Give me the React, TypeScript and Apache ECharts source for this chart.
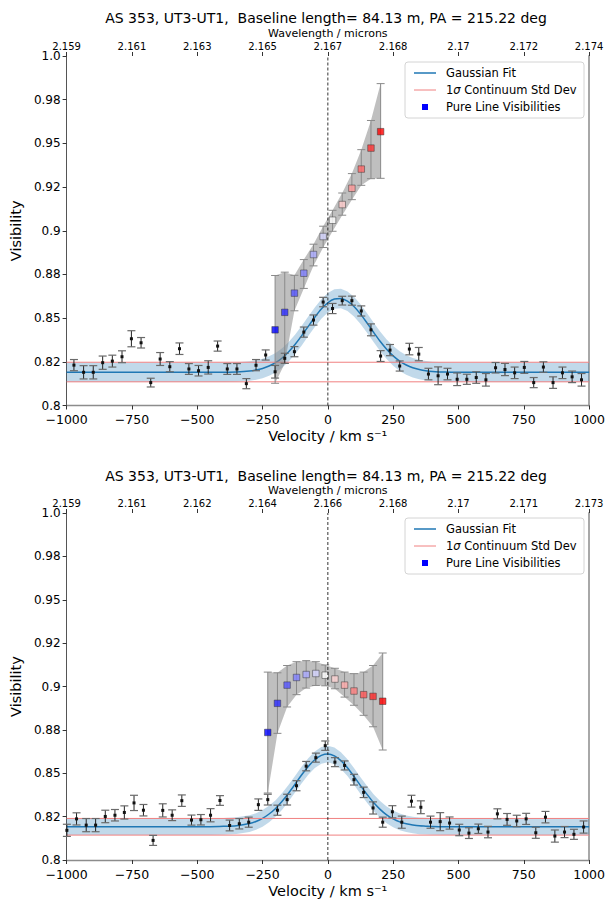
import React, { useEffect, useRef } from 'react';
import * as echarts from 'echarts';

const TITLE = 'AS 353, UT3-UT1,  Baseline length= 84.13 m, PA = 215.22 deg';
const wavelengthLabels1 = ['2.159', '2.161', '2.163', '2.165', '2.167', '2.168', '2.17', '2.172', '2.174'];
const wavelengthLabels2 = ['2.159', '2.161', '2.162', '2.164', '2.166', '2.168', '2.17', '2.171', '2.173'];
const visibilityLabels = ['0.8', '0.82', '0.85', '0.88', '0.9', '0.92', '0.95', '0.98', '1.0'];

// ---------- Panel 1 ----------
const vel1 = [-972, -935, -898, -862, -825, -788, -752, -715, -678, -642, -605, -568, -532, -495, -458, -422, -385, -348, -312, -275,
  -238, -202, -165, -128, -92, -55, -18, 18, 55, 92, 128, 165, 202, 238, 275, 312, 348, 385, 422, 458,
  495, 532, 568, 605, 642, 678, 715, 752, 788, 825, 862, 898, 935, 971];
const vis1 = [0.8231, 0.8190, 0.8190, 0.8245, 0.8254, 0.8279, 0.8382, 0.8359, 0.8131, 0.8266, 0.8222, 0.8325, 0.8209, 0.8199, 0.8218, 0.8340, 0.8209, 0.8209, 0.8125, 0.8231,
  0.8289, 0.8193, 0.8270, 0.8308, 0.8420, 0.8489, 0.8592, 0.8555, 0.8600, 0.8600, 0.8541, 0.8433, 0.8283, 0.8317, 0.8226, 0.8323, 0.8294, 0.8180, 0.8170, 0.8180,
  0.8150, 0.8150, 0.8160, 0.8147, 0.8216, 0.8206, 0.8187, 0.8218, 0.8131, 0.8220, 0.8131, 0.8187, 0.8164, 0.8147];
const err1 = [0.0032, 0.0038, 0.0038, 0.0038, 0.0034, 0.0034, 0.0046, 0.0030, 0.0025, 0.0037, 0.0029, 0.0033, 0.0031, 0.0030, 0.0038, 0.0029, 0.0031, 0.0031, 0.0029, 0.0032,
  0.0029, 0.0036, 0.0029, 0.0029, 0.0029, 0.0029, 0.0027, 0.0029, 0.0025, 0.0026, 0.0029, 0.0034, 0.0031, 0.0032, 0.0029, 0.0033, 0.0038, 0.0033, 0.0051, 0.0033,
  0.0036, 0.0029, 0.0033, 0.0036, 0.0030, 0.0035, 0.0033, 0.0034, 0.0029, 0.0030, 0.0033, 0.0033, 0.0033, 0.0036];
const fitVel = [-1000, -600, -450, -400, -350, -300, -275, -250, -225, -200, -175, -150, -125, -100, -75, -50, -25, 0, 25, 50,
  75, 100, 125, 150, 175, 200, 225, 250, 275, 300, 325, 350, 375, 400, 450, 500, 600, 1000];
const fit1 = [0.8190, 0.8190, 0.8190, 0.8190, 0.8192, 0.8197, 0.8203, 0.8212, 0.8226, 0.8245, 0.8272, 0.8308, 0.8351, 0.8400, 0.8453, 0.8505, 0.8552, 0.8588, 0.8609, 0.8612,
  0.8597, 0.8566, 0.8523, 0.8472, 0.8419, 0.8368, 0.8322, 0.8284, 0.8254, 0.8232, 0.8216, 0.8206, 0.8199, 0.8195, 0.8191, 0.8190, 0.8190, 0.8190];
const contMean1 = 0.81915;
const contStd1 = 0.0056;
const lineVel1 = [-202, -165, -128, -92, -55, -18, 18, 55, 92, 128, 165, 202];
const lineVis1 = [0.8433, 0.8533, 0.8643, 0.8757, 0.8864, 0.8967, 0.9060, 0.9150, 0.9243, 0.9353, 0.9473, 0.9567];
const lineLow1 = [0.8127, 0.8241, 0.8542, 0.8670, 0.8799, 0.8904, 0.8997, 0.9089, 0.9178, 0.9260, 0.9298, 0.9300];
const lineHigh1 = [0.8744, 0.8763, 0.8745, 0.8835, 0.8923, 0.9026, 0.9117, 0.9216, 0.9327, 0.9464, 0.9631, 0.9842];

// ---------- Panel 2 ----------
const vel2 = [-999, -962, -925, -889, -852, -815, -779, -742, -706, -669, -632, -596, -559, -522, -486, -449, -413, -376, -339, -303,
  -266, -230, -193, -156, -120, -83, -46, -10, 27, 64, 100, 137, 173, 210, 247, 283, 320, 356, 393, 430,
  466, 503, 540, 576, 613, 649, 686, 723, 759, 796, 833, 869, 906, 942, 979];
const vis2 = [0.8171, 0.8237, 0.8201, 0.8201, 0.8251, 0.8258, 0.8274, 0.8329, 0.8287, 0.8113, 0.8286, 0.8258, 0.8342, 0.8230, 0.8232, 0.8258, 0.8343, 0.8199, 0.8209, 0.8218,
  0.8319, 0.8348, 0.8287, 0.8348, 0.8428, 0.8541, 0.8590, 0.8659, 0.8564, 0.8545, 0.8463, 0.8390, 0.8300, 0.8218, 0.8278, 0.8218, 0.8339, 0.8304, 0.8218, 0.8221,
  0.8213, 0.8173, 0.8155, 0.8180, 0.8161, 0.8266, 0.8234, 0.8225, 0.8237, 0.8157, 0.8247, 0.8138, 0.8161, 0.8148, 0.8190];
const err2 = [0.0035, 0.0035, 0.0038, 0.0038, 0.0036, 0.0033, 0.0038, 0.0044, 0.0033, 0.0029, 0.0038, 0.0031, 0.0033, 0.0029, 0.0030, 0.0038, 0.0028, 0.0031, 0.0030, 0.0029,
  0.0033, 0.0031, 0.0029, 0.0031, 0.0029, 0.0027, 0.0026, 0.0027, 0.0026, 0.0026, 0.0031, 0.0030, 0.0035, 0.0029, 0.0035, 0.0035, 0.0034, 0.0037, 0.0035, 0.0052,
  0.0035, 0.0033, 0.0031, 0.0027, 0.0033, 0.0029, 0.0034, 0.0033, 0.0032, 0.0032, 0.0033, 0.0035, 0.0032, 0.0029, 0.0035];
const fit2 = [0.8192, 0.8192, 0.8192, 0.8194, 0.8198, 0.8210, 0.8222, 0.8240, 0.8265, 0.8297, 0.8338, 0.8386, 0.8438, 0.8491, 0.8539, 0.8578, 0.8603, 0.8611, 0.8600, 0.8573,
  0.8532, 0.8482, 0.8429, 0.8378, 0.8331, 0.8292, 0.8260, 0.8237, 0.8220, 0.8209, 0.8202, 0.8197, 0.8195, 0.8193, 0.8192, 0.8192, 0.8192, 0.8192];
const contMean2 = 0.81915;
const contStd2 = 0.0048;
const lineVel2 = [-230, -193, -156, -120, -83, -46, -10, 27, 64, 100, 137, 173, 210];
const lineVis2 = [0.8735, 0.8903, 0.9008, 0.9052, 0.9069, 0.9075, 0.9065, 0.9043, 0.9008, 0.8974, 0.8953, 0.8943, 0.8915];
const lineLow2 = [0.8386, 0.8730, 0.8882, 0.8953, 0.8991, 0.9006, 0.9004, 0.8987, 0.8939, 0.8892, 0.8834, 0.8768, 0.8634];
const lineHigh2 = [0.9083, 0.9079, 0.9121, 0.9143, 0.9149, 0.9143, 0.9124, 0.9105, 0.9083, 0.9074, 0.9083, 0.9121, 0.9193];

const FONT = 'DejaVu Sans';
const BLUE = '#1f77b4';
const PINK = '#f08080';

function bwr(t: number) {
  let r: number, g: number, b: number;
  if (t <= 0.5) {
    const s = t / 0.5;
    r = g = Math.round(255 * s);
    b = 255;
  } else {
    const s = (1 - t) / 0.5;
    r = 255;
    g = b = Math.round(255 * s);
  }
  return `rgb(${r},${g},${b})`;
}
function colorFor(i: number, n: number, w: number) {
  return i <= w ? bwr((0.5 * i) / w) : bwr(0.5 + (0.5 * (i - w)) / (n - 1 - w));
}

function bandSeries(ax: number, xs: number[], lo: number[], hi: number[], fill: string, z: number) {
  return {
    type: 'custom',
    xAxisIndex: ax,
    yAxisIndex: ax,
    z,
    silent: true,
    clip: true,
    data: [[xs[0], lo[0]]],
    renderItem: (_p: any, api: any) => {
      const pts: number[][] = [];
      for (let i = 0; i < xs.length; i++) pts.push(api.coord([xs[i], hi[i]]));
      for (let i = xs.length - 1; i >= 0; i--) pts.push(api.coord([xs[i], lo[i]]));
      return { type: 'polygon', shape: { points: pts }, style: { fill, stroke: 'none' } };
    },
  };
}

function panelSeries(
  p: number,
  vel: number[], vis: number[], err: number[],
  fit: number[], mean: number, std: number,
  lVel: number[], lVis: number[], lLow: number[], lHigh: number[],
) {
  const ax = p * 2;
  const fitHi = fit.map((f) => f + std);
  const fitLo = fit.map((f) => f - std);
  const whiteIdx = 6;
  return [
    bandSeries(ax, fitVel, fitLo, fitHi, 'rgba(31,119,180,0.28)', 1),
    {
      type: 'line', xAxisIndex: ax, yAxisIndex: ax, z: 2, silent: true,
      data: fitVel.map((v, i) => [v, fit[i]]), smooth: 0.3, symbol: 'none',
      lineStyle: { color: BLUE, width: 1.5 },
    },
    {
      type: 'line', xAxisIndex: ax, yAxisIndex: ax, z: 3, silent: true, symbol: 'none',
      data: [[-1000, mean + std], [1000, mean + std]], lineStyle: { color: PINK, width: 1 },
    },
    {
      type: 'line', xAxisIndex: ax, yAxisIndex: ax, z: 3, silent: true, symbol: 'none',
      data: [[-1000, mean - std], [1000, mean - std]], lineStyle: { color: PINK, width: 1 },
    },
    bandSeries(ax, lVel, lLow, lHigh, 'rgba(128,128,128,0.5)', 4),
    {
      type: 'custom', xAxisIndex: ax, yAxisIndex: ax, z: 5, silent: true,
      data: lVel.map((v, i) => [v, lLow[i], lHigh[i]]),
      renderItem: (_p: any, api: any) => {
        const x = api.value(0);
        const a = api.coord([x, api.value(1)]);
        const b = api.coord([x, api.value(2)]);
        const cw = 4;
        const st = { stroke: '#8a8a8a', lineWidth: 1 };
        return {
          type: 'group',
          children: [
            { type: 'line', shape: { x1: a[0], y1: a[1], x2: b[0], y2: b[1] }, style: st },
            { type: 'line', shape: { x1: a[0] - cw, y1: a[1], x2: a[0] + cw, y2: a[1] }, style: st },
            { type: 'line', shape: { x1: b[0] - cw, y1: b[1], x2: b[0] + cw, y2: b[1] }, style: st },
          ],
        };
      },
    },
    {
      type: 'scatter', xAxisIndex: ax, yAxisIndex: ax, z: 6, silent: true,
      symbol: 'rect', symbolSize: 6.5,
      data: lVel.map((v, i) => ({
        value: [v, lVis[i]],
        itemStyle: { color: colorFor(i, lVel.length, whiteIdx), borderColor: '#333', borderWidth: 0.6 },
      })),
    },
    {
      type: 'custom', xAxisIndex: ax, yAxisIndex: ax, z: 7, silent: true,
      data: vel.map((v, i) => [v, vis[i], err[i]]),
      renderItem: (_p: any, api: any) => {
        const x = api.value(0);
        const y = api.value(1);
        const e = api.value(2);
        const c = api.coord([x, y]);
        const t = api.coord([x, y + e]);
        const b = api.coord([x, y - e]);
        const cw = 4;
        const cap = { stroke: '#6a6a6a', lineWidth: 1.2 };
        return {
          type: 'group',
          children: [
            { type: 'line', shape: { x1: c[0], y1: t[1], x2: c[0], y2: b[1] }, style: { stroke: '#222', lineWidth: 1 } },
            { type: 'line', shape: { x1: c[0] - cw, y1: t[1], x2: c[0] + cw, y2: t[1] }, style: cap },
            { type: 'line', shape: { x1: c[0] - cw, y1: b[1], x2: c[0] + cw, y2: b[1] }, style: cap },
            { type: 'rect', shape: { x: c[0] - 1.5, y: c[1] - 1.5, width: 3, height: 3 }, style: { fill: '#111' } },
          ],
        };
      },
    },
    {
      type: 'line', xAxisIndex: ax, yAxisIndex: ax, z: 8, silent: true, symbol: 'none',
      data: [[0, 0.8], [0, 1.0]], lineStyle: { color: '#000', width: 0.8, type: [3, 2] },
    },
  ];
}

function xAxes(gridIndex: number, wl: string[]) {
  return [
    {
      type: 'value', gridIndex, position: 'bottom', min: -1000, max: 1000, interval: 250,
      axisLine: { show: true, onZero: false, lineStyle: { color: '#8c8c8c', width: 1.3 } },
      axisTick: { show: true, length: 4, lineStyle: { color: '#333' } },
      axisLabel: {
        fontFamily: FONT, fontSize: 12.5, color: '#000', margin: 7.5,
        formatter: (v: number) => (v < 0 ? '\u2212' + Math.abs(v) : String(v)),
      },
      splitLine: { show: false },
      name: 'Velocity / km s\u207B\u00B9', nameLocation: 'middle', nameGap: 23,
      nameTextStyle: { fontFamily: FONT, fontSize: 14.5, color: '#000' },
    },
    {
      type: 'value', gridIndex, position: 'top', min: -1000, max: 1000, interval: 250,
      axisLine: { show: false, onZero: false },
      axisTick: { show: true, length: 4, lineStyle: { color: '#333' } },
      axisLabel: {
        fontFamily: FONT, fontSize: 10, color: '#000', margin: 5,
        formatter: (v: number) => wl[Math.round((v + 1000) / 250)],
      },
      splitLine: { show: false },
      name: 'Wavelength / microns', nameLocation: 'middle', nameGap: 17,
      nameTextStyle: { fontFamily: FONT, fontSize: 11, color: '#000' },
    },
  ];
}

function yAxes(gridIndex: number) {
  return [
    {
      type: 'value', gridIndex, position: 'left', min: 0.8, max: 1.0, interval: 0.025,
      axisLine: { show: true, onZero: false, lineStyle: { color: '#555', width: 1 } },
      axisTick: { show: true, length: 4, lineStyle: { color: '#333' } },
      axisLabel: {
        fontFamily: FONT, fontSize: 12, color: '#000', margin: 6,
        formatter: (v: number) => visibilityLabels[Math.round((v - 0.8) / 0.025)],
      },
      splitLine: { show: false },
      name: 'Visibility', nameLocation: 'middle', nameGap: 36, nameRotate: 90,
      nameTextStyle: { fontFamily: FONT, fontSize: 14.5, color: '#000' },
    },
    {
      type: 'value', gridIndex, position: 'right', min: 0.8, max: 1.0, interval: 0.025,
      axisLine: { show: true, onZero: false, lineStyle: { color: '#a8a8a8', width: 2 } },
      axisTick: { show: false },
      axisLabel: { show: false },
      splitLine: { show: false },
    },
  ];
}

function legendGroup(y: number) {
  const f = { fontFamily: FONT, fontSize: 11.5, fill: '#000', verticalAlign: 'middle' as const, align: 'left' as const };
  return {
    type: 'group',
    x: 405,
    y,
    z: 100,
    children: [
      { type: 'rect', shape: { x: 0, y: 0, width: 179, height: 56, r: 3 }, style: { fill: 'rgba(255,255,255,0.85)', stroke: '#d4d4d4', lineWidth: 1 } },
      { type: 'line', shape: { x1: 9, y1: 11, x2: 31, y2: 11 }, style: { stroke: BLUE, lineWidth: 1.5 } },
      { type: 'text', x: 41, y: 11, style: { ...f, text: 'Gaussian Fit' } },
      { type: 'line', shape: { x1: 9, y1: 28, x2: 31, y2: 28 }, style: { stroke: PINK, lineWidth: 1 } },
      {
        type: 'text', x: 41, y: 28,
        style: { ...f, text: '1{i|\u03C3} Continuum Std Dev', rich: { i: { fontFamily: FONT, fontSize: 11.5, fontStyle: 'italic', fill: '#000' } } },
      },
      { type: 'rect', shape: { x: 17, y: 42, width: 6, height: 6 }, style: { fill: '#0000ff' } },
      { type: 'text', x: 41, y: 45, style: { ...f, text: 'Pure Line Visibilities' } },
    ],
  };
}

export default function App() {
  const ref = useRef<HTMLDivElement>(null);
  useEffect(() => {
    if (!ref.current) return;
    const chart = echarts.init(ref.current, undefined, { renderer: 'svg' });
    const option = {
      animation: false,
      backgroundColor: '#fff',
      textStyle: { fontFamily: FONT },
      grid: [
        { left: 62, top: 56, width: 528, height: 349.5 },
        { left: 62, top: 513, width: 528, height: 349.5 },
      ],
      xAxis: [...xAxes(0, wavelengthLabels1), ...xAxes(1, wavelengthLabels2)],
      yAxis: [...yAxes(0), ...yAxes(1)],
      series: [
        ...panelSeries(0, vel1, vis1, err1, fit1, contMean1, contStd1, lineVel1, lineVis1, lineLow1, lineHigh1),
        ...panelSeries(1, vel2, vis2, err2, fit2, contMean2, contStd2, lineVel2, lineVis2, lineLow2, lineHigh2),
      ],
      graphic: [
        { type: 'text', x: 326, y: 18, style: { text: TITLE, fontFamily: FONT, fontSize: 14, fill: '#000', align: 'center', verticalAlign: 'middle' } },
        { type: 'text', x: 326, y: 476, style: { text: TITLE, fontFamily: FONT, fontSize: 14, fill: '#000', align: 'center', verticalAlign: 'middle' } },
        legendGroup(62),
        legendGroup(518),
      ],
    };
    chart.setOption(option as any);
    return () => chart.dispose();
  }, []);
  return <div ref={ref} style={{ position: 'absolute', left: 0, top: 0, width: 608, height: 899 }} />;
}
